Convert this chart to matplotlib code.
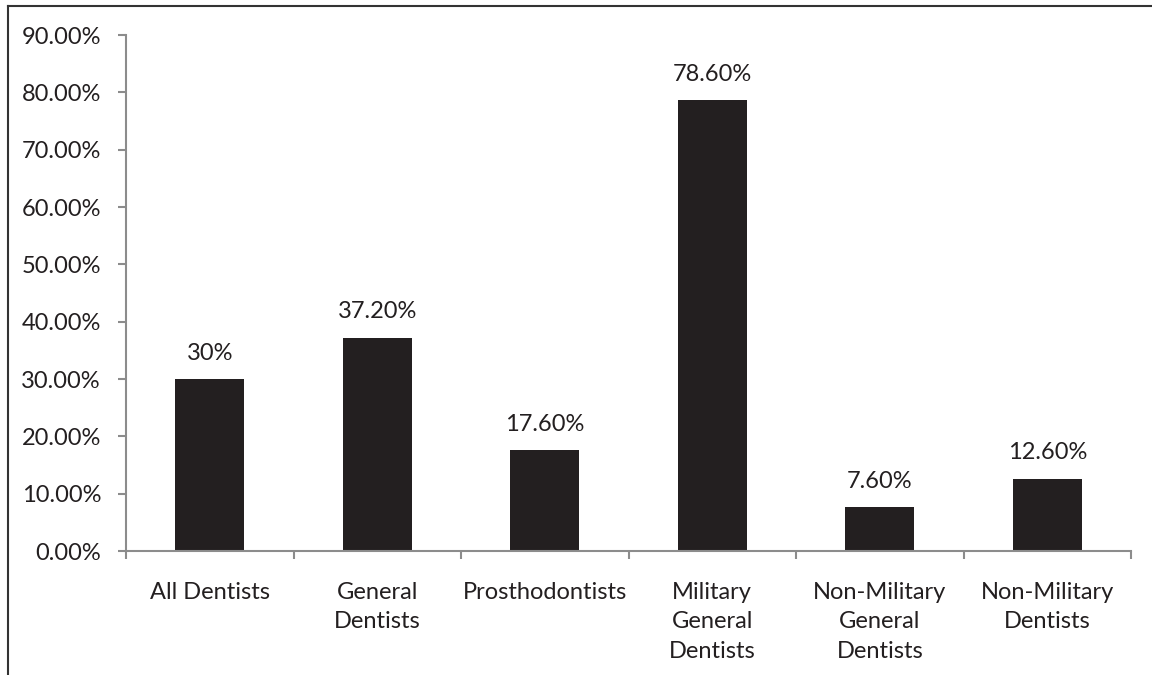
import numpy as np
import matplotlib.pyplot as plt
from matplotlib.lines import Line2D

categories = ["All Dentists", "General\nDentists", "Prosthodontists",
              "Military\nGeneral\nDentists", "Non-Military\nGeneral\nDentists",
              "Non-Military\nDentists"]
values = [30.0, 37.2, 17.6, 78.6, 7.6, 12.6]
value_labels = ["30%", "37.20%", "17.60%", "78.60%", "7.60%", "12.60%"]

plt.rcParams['font.family'] = ['Lato', 'DejaVu Sans']

fig = plt.figure(figsize=(11.52, 6.75), dpi=100)
ax = fig.add_axes([0.1094, 0.1837, 0.8724, 0.7643])

x = np.arange(len(categories))
bars = ax.bar(x, values, width=0.41, color='#231f20')

for b, lab in zip(bars, value_labels):
    ax.annotate(lab, (b.get_x() + b.get_width() / 2, b.get_height()),
                xytext=(0, 11), textcoords='offset points',
                ha='center', va='bottom', fontsize=17, color='#231f20')

ax.set_xlim(-0.5, len(categories) - 0.5)
ax.set_ylim(0, 90)
ax.set_yticks(np.arange(0, 91, 10))
ax.set_yticklabels(["%.2f%%" % v for v in np.arange(0, 91, 10)])
ax.set_xticks(x)
ax.set_xticklabels(categories, linespacing=1.5)
ax.set_xticks(np.arange(-0.5, len(categories)), minor=True)

spine_c = '#8c8c8c'
for s in ['top', 'right']:
    ax.spines[s].set_visible(False)
for s in ['left', 'bottom']:
    ax.spines[s].set_color(spine_c)
    ax.spines[s].set_linewidth(1.5)

ax.tick_params(axis='y', length=6, width=1.5, color=spine_c, pad=12,
               labelsize=17, labelcolor='#231f20')
ax.tick_params(axis='x', which='major', length=0, pad=22,
               labelsize=17, labelcolor='#231f20')
ax.tick_params(axis='x', which='minor', length=6, width=1.5, color=spine_c)

# frame lines of the original figure
fig.add_artist(Line2D([8 / 1152, 1], [1 - 6 / 675, 1 - 6 / 675],
                      transform=fig.transFigure, color='#333333', lw=1.5))
fig.add_artist(Line2D([8 / 1152, 8 / 1152], [0, 1 - 6 / 675],
                      transform=fig.transFigure, color='#333333', lw=1.5))

fig.savefig('out.png', dpi=100)
